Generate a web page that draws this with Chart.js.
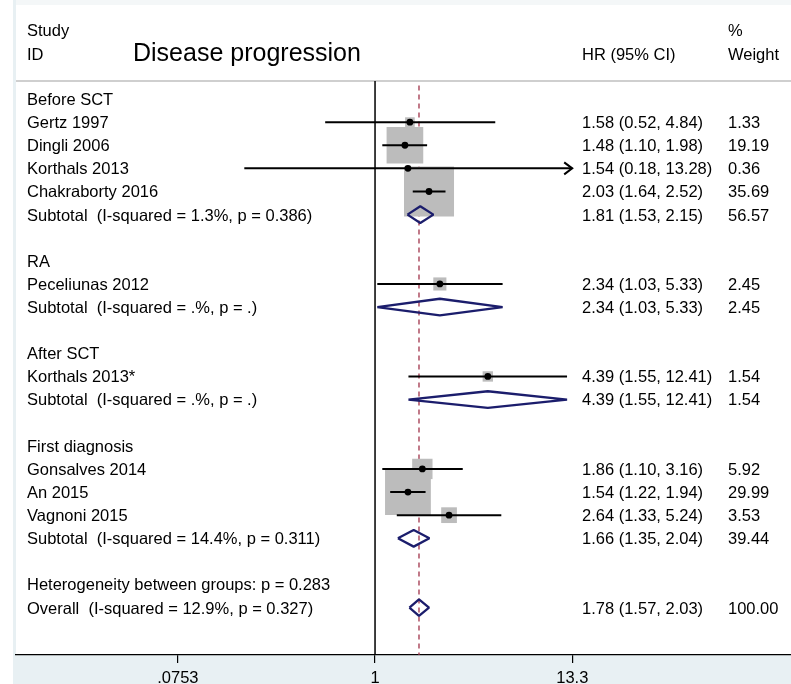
<!DOCTYPE html>
<html>
<head>
<meta charset="utf-8">
<script src="https://cdn.jsdelivr.net/npm/chart.js@4.4.1/dist/chart.umd.min.js"></script>
<style>
  html, body { margin: 0; padding: 0; background: #fff; }
  #wrap { width: 791px; height: 684px; }
</style>
</head>
<body>
<div id="wrap"><canvas id="forest" width="791" height="684"></canvas></div>
<script>
// ---- Disease progression: hazard ratios by subgroup ----
const groupNames = ['Before SCT', 'RA', 'After SCT', 'First diagnosis'];
const groupRows = [0, 7, 11, 15];

const studyNames = ['Gertz 1997', 'Dingli 2006', 'Korthals 2013', 'Chakraborty 2016',
  'Peceliunas 2012', 'Korthals 2013*', 'Gonsalves 2014', 'An 2015', 'Vagnoni 2015'];
const studyRows = [1, 2, 3, 4, 8, 12, 16, 17, 18];
const studyHR = [1.58, 1.48, 1.54, 2.03, 2.34, 4.39, 1.86, 1.54, 2.64];
const studyLow = [0.52, 1.10, 0.18, 1.64, 1.03, 1.55, 1.10, 1.22, 1.33];
const studyHigh = [4.84, 1.98, 13.28, 2.52, 5.33, 12.41, 3.16, 1.94, 5.24];
const studyWeight = [1.33, 19.19, 0.36, 35.69, 2.45, 1.54, 5.92, 29.99, 3.53];

const pooledNames = ['Subtotal  (I-squared = 1.3%, p = 0.386)', 'Subtotal  (I-squared = .%, p = .)',
  'Subtotal  (I-squared = .%, p = .)', 'Subtotal  (I-squared = 14.4%, p = 0.311)',
  'Overall  (I-squared = 12.9%, p = 0.327)'];
const pooledRows = [5, 9, 13, 19, 22];
const pooledHR = [1.81, 2.34, 4.39, 1.66, 1.78];
const pooledLow = [1.53, 1.03, 1.55, 1.35, 1.57];
const pooledHigh = [2.15, 5.33, 12.41, 2.04, 2.03];
const pooledWeight = [56.57, 2.45, 1.54, 39.44, 100.00];

const noteText = 'Heterogeneity between groups: p = 0.283';
const noteRow = 21;

const tickValues = [0.0753, 1, 13.3];
const tickLabels = ['.0753', '1', '13.3'];

// ---- layout ----
const FONT = '"Liberation Sans", Arial, sans-serif';
const FS = 16.5;
const Y_MIN = -4.066, Y_MAX = 24.048;      // row units
const HEADER_LINE_ROW = -0.78;
const X_MIN = 0.00901, X_MAX = 234.2;      // log axis range
const COL_LABEL = 27, COL_TITLE = 133, COL_HR = 582, COL_W = 728;
const BOX_SCALE = 8.37;                    // square side per sqrt(weight)
const DIAMOND_H = 0.36;                    // diamond half height in rows
const NAVY = '#1b1d6c';
const overallHR = pooledHR[pooledHR.length - 1];
const xTickMax = tickValues[tickValues.length - 1];

const fmt = v => v.toFixed(2);

const datasets = [];

// reference line at HR = 1
datasets.push({
  data: [{ x: 1, y: HEADER_LINE_ROW }, { x: 1, y: Y_MAX }],
  showLine: true, borderColor: '#000', borderWidth: 1.5, pointRadius: 0, order: 10
});
// dashed line at the overall estimate
datasets.push({
  data: [{ x: overallHR, y: HEADER_LINE_ROW + 0.2 }, { x: overallHR, y: Y_MAX }],
  showLine: true, borderColor: '#a0324a', borderWidth: 1.3, borderDash: [5, 4],
  pointRadius: 0, order: 10
});
// weight boxes
datasets.push({
  data: studyHR.map((v, i) => ({ x: v, y: studyRows[i] })),
  pointStyle: 'rect',
  pointRadius: studyWeight.map(w => (BOX_SCALE * Math.sqrt(w) / 2) / Math.SQRT1_2),
  backgroundColor: '#bcbcbc', borderWidth: 0, order: 8
});
// confidence intervals
studyHR.forEach((v, i) => {
  datasets.push({
    data: [{ x: studyLow[i], y: studyRows[i] }, { x: studyHigh[i], y: studyRows[i] }],
    showLine: true, borderColor: '#000', borderWidth: 2, pointRadius: 0, order: 6
  });
});
// point estimates
datasets.push({
  data: studyHR.map((v, i) => ({ x: v, y: studyRows[i] })),
  pointStyle: 'circle', pointRadius: 3.4, backgroundColor: '#000', borderWidth: 0, order: 4
});
// pooled diamonds
pooledHR.forEach((v, i) => {
  const r = pooledRows[i];
  datasets.push({
    data: [
      { x: pooledLow[i], y: r }, { x: v, y: r - DIAMOND_H },
      { x: pooledHigh[i], y: r }, { x: v, y: r + DIAMOND_H }, { x: pooledLow[i], y: r }
    ],
    showLine: true, borderColor: NAVY, borderWidth: 2.3, borderJoinStyle: 'bevel',
    backgroundColor: 'rgba(0,0,0,0)', fill: false, pointRadius: 0, order: 5
  });
});

const forestDecor = {
  id: 'forestDecor',
  beforeDraw(chart) {
    const { ctx, chartArea: a } = chart;
    ctx.save();
    ctx.fillStyle = '#ffffff';
    ctx.fillRect(0, 0, chart.width, chart.height);
    ctx.fillStyle = '#e8f0f3';
    ctx.fillRect(13, 0, chart.width - 13, chart.height);
    ctx.fillStyle = '#f4f7f8';
    ctx.fillRect(16, 0, chart.width - 16, a.top);
    ctx.fillStyle = '#ffffff';
    ctx.fillRect(a.left, a.top, a.right - a.left, a.bottom - a.top);
    ctx.restore();
  },
  beforeDatasetsDraw(chart) {
    const { ctx, chartArea: a, scales: { y } } = chart;
    const yy = y.getPixelForValue(HEADER_LINE_ROW);
    ctx.save();
    ctx.strokeStyle = '#cfcfcf';
    ctx.lineWidth = 2;
    ctx.beginPath();
    ctx.moveTo(a.left, yy);
    ctx.lineTo(a.right, yy);
    ctx.stroke();
    ctx.restore();
  },
  afterDraw(chart) {
    const { ctx, scales: { x, y } } = chart;
    ctx.save();
    // arrows for intervals running to the edge of the axis
    ctx.strokeStyle = '#000';
    ctx.lineWidth = 2;
    studyHigh.forEach((h, i) => {
      if (h >= xTickMax - 0.05) {
        const px = x.getPixelForValue(h), py = y.getPixelForValue(studyRows[i]);
        ctx.beginPath();
        ctx.moveTo(px - 8, py - 6);
        ctx.lineTo(px, py);
        ctx.lineTo(px - 8, py + 6);
        ctx.stroke();
      }
    });

    const text = (s, px, row, size) => {
      const f = size || FS;
      ctx.font = f + 'px ' + FONT;
      ctx.fillText(s, px, y.getPixelForValue(row) + 0.358 * f);
    };
    ctx.fillStyle = '#000';
    ctx.textAlign = 'left';
    ctx.textBaseline = 'alphabetic';

    // column headers
    text('Study', COL_LABEL, -2.98);
    text('ID', COL_LABEL, -1.95);
    text('Disease progression', COL_TITLE, -2.04, 25);
    text('HR (95% CI)', COL_HR, -1.95);
    text('%', COL_W, -2.98);
    text('Weight', COL_W, -1.95);

    groupNames.forEach((g, i) => text(g, COL_LABEL, groupRows[i]));
    studyNames.forEach((s, i) => {
      text(s, COL_LABEL, studyRows[i]);
      text(fmt(studyHR[i]) + ' (' + fmt(studyLow[i]) + ', ' + fmt(studyHigh[i]) + ')', COL_HR, studyRows[i]);
      text(fmt(studyWeight[i]), COL_W, studyRows[i]);
    });
    pooledNames.forEach((s, i) => {
      text(s, COL_LABEL, pooledRows[i]);
      text(fmt(pooledHR[i]) + ' (' + fmt(pooledLow[i]) + ', ' + fmt(pooledHigh[i]) + ')', COL_HR, pooledRows[i]);
      text(fmt(pooledWeight[i]), COL_W, pooledRows[i]);
    });
    text(noteText, COL_LABEL, noteRow);
    ctx.restore();
  }
};

Chart.defaults.font.family = FONT;

new Chart(document.getElementById('forest'), {
  type: 'scatter',
  data: { datasets },
  plugins: [forestDecor],
  options: {
    responsive: false,
    animation: false,
    events: [],
    devicePixelRatio: 1,
    layout: { autoPadding: false, padding: { left: 16, right: 0, top: 5, bottom: 0 } },
    plugins: { legend: { display: false }, tooltip: { enabled: false } },
    scales: {
      x: {
        type: 'logarithmic',
        position: 'bottom',
        min: X_MIN,
        max: X_MAX,
        bounds: 'data',
        afterBuildTicks: s => { s.ticks = tickValues.map(v => ({ value: v })); },
        afterFit: s => { s.height = 29; },
        ticks: {
          autoSkip: false, maxRotation: 0, minRotation: 0, padding: 6,
          color: '#000', font: { size: FS, family: FONT },
          callback: (v, i) => tickLabels[i]
        },
        grid: { display: true, drawOnChartArea: false, drawTicks: true, tickLength: 8, color: '#000', lineWidth: 1.2 },
        border: { display: true, color: '#000', width: 1.2 }
      },
      y: {
        type: 'linear',
        reverse: true,
        min: Y_MIN,
        max: Y_MAX,
        display: false
      }
    }
  }
});
</script>
</body>
</html>
